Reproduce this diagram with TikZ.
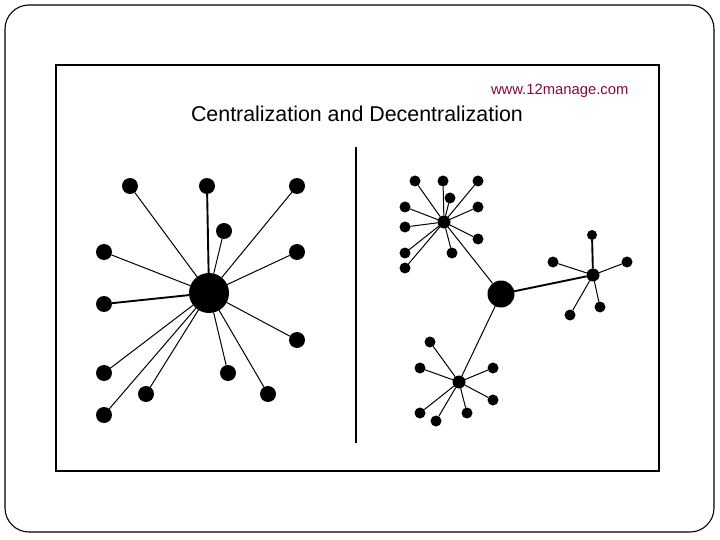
\documentclass[tikz,border=0pt]{standalone}
\usepackage{fontspec}
\setmainfont{Liberation Sans}
\definecolor{sitered}{RGB}{130,10,60}

\begin{document}
\begin{tikzpicture}[x=1pt,y=-1pt]
\tikzset{ inner sep=0pt, outer sep=0pt,
  dot/.style={fill=black, circle, minimum size=16pt},
  bigdot/.style={fill=black, circle, minimum size=40pt},
  hubdot/.style={fill=black, circle, minimum size=27pt},
  subdot/.style={fill=black, circle, minimum size=13pt},
  smalldot/.style={fill=black, circle, minimum size=11pt},
  spoke/.style={line width=1pt},
  thickspoke/.style={line width=1.9pt},
}

\useasboundingbox (0,0) rectangle (720,540);

% frames
\draw [line width=1.1pt, rounded corners=24pt] (5,5) rectangle (714,532);
\draw [line width=1.8pt] (56,65) rectangle (659,471);

\node [anchor=base west, text=sitered, font=\fontsize{14.8}{17}\selectfont] (W) at (491,95) {www.12manage.com};
\node [anchor=base west, font=\fontsize{21.4}{24}\selectfont] (T) at (191,122) {Centralization and Decentralization};

\coordinate (D1) at (356,147);
\coordinate (D2) at (356,443);
\draw [line width=1.3pt] (D1)--(D2);

% centralization
\node [bigdot] (C) at (209,293) {};

\node [dot] (C1) at (130,186) {};
\node [dot] (C2) at (207,186) {};
\node [dot] (C3) at (297,186) {};
\node [dot] (C4) at (224,231) {};
\node [dot] (C5) at (104,252) {};
\node [dot] (C6) at (297,252) {};
\node [dot] (C7) at (104,304) {};
\node [dot] (C8) at (297,340) {};
\node [dot] (C9) at (104,373) {};
\node [dot] (C10) at (146,394) {};
\node [dot] (C11) at (228,373) {};
\node [dot] (C12) at (268,394) {};
\node [dot] (C13) at (104,415) {};

\draw [spoke] (C)--(C1);
\draw [thickspoke] (C)--(C2);
\draw [spoke] (C)--(C3);
\draw [spoke] (C)--(C4);
\draw [spoke] (C)--(C5);
\draw [spoke] (C)--(C6);
\draw [thickspoke] (C)--(C7);
\draw [spoke] (C)--(C8);
\draw [spoke] (C)--(C9);
\draw [spoke] (C)--(C10);
\draw [spoke] (C)--(C11);
\draw [spoke] (C)--(C12);
\draw [spoke] (C)--(C13);

% decentralization
\node [hubdot] (H) at (501,294) {};

\node [subdot] (A) at (444,222) {};
\node [subdot] (B) at (593,275) {};
\node [subdot] (K) at (459,382) {};

\draw [spoke] (H)--(A);
\draw [thickspoke] (H)--(B);
\draw [spoke] (H)--(K);

\node [smalldot] (A1) at (415,181) {};
\node [smalldot] (A2) at (443,181) {};
\node [smalldot] (A3) at (478,181) {};
\node [smalldot] (A4) at (450,198) {};
\node [smalldot] (A5) at (405,207) {};
\node [smalldot] (A6) at (478,207) {};
\node [smalldot] (A7) at (405,227) {};
\node [smalldot] (A8) at (478,239) {};
\node [smalldot] (A9) at (405,253) {};
\node [smalldot] (A10) at (452,253) {};
\node [smalldot] (A11) at (405,268) {};

\draw [spoke] (A)--(A1);
\draw [spoke] (A)--(A2);
\draw [spoke] (A)--(A3);
\draw [spoke] (A)--(A4);
\draw [spoke] (A)--(A5);
\draw [spoke] (A)--(A6);
\draw [spoke] (A)--(A7);
\draw [spoke] (A)--(A8);
\draw [spoke] (A)--(A9);
\draw [spoke] (A)--(A10);
\draw [spoke] (A)--(A11);

\node [smalldot, minimum size=10pt] (B1) at (592,235) {};
\node [smalldot] (B2) at (553,262) {};
\node [smalldot] (B3) at (627,262) {};
\node [smalldot] (B4) at (570,315) {};
\node [smalldot] (B5) at (600,307) {};

\draw [thickspoke] (B)--(B1);
\draw [spoke] (B)--(B2);
\draw [spoke] (B)--(B3);
\draw [spoke] (B)--(B4);
\draw [spoke] (B)--(B5);

\node [smalldot] (K1) at (430,342) {};
\node [smalldot] (K2) at (420,368) {};
\node [smalldot] (K3) at (493,368) {};
\node [smalldot] (K4) at (493,400) {};
\node [smalldot] (K5) at (420,413) {};
\node [smalldot] (K6) at (436,421) {};
\node [smalldot] (K7) at (467,413) {};

\draw [spoke] (K)--(K1);
\draw [spoke] (K)--(K2);
\draw [spoke] (K)--(K3);
\draw [spoke] (K)--(K4);
\draw [spoke] (K)--(K5);
\draw [spoke] (K)--(K6);
\draw [spoke] (K)--(K7);

\end{tikzpicture}
\end{document}
